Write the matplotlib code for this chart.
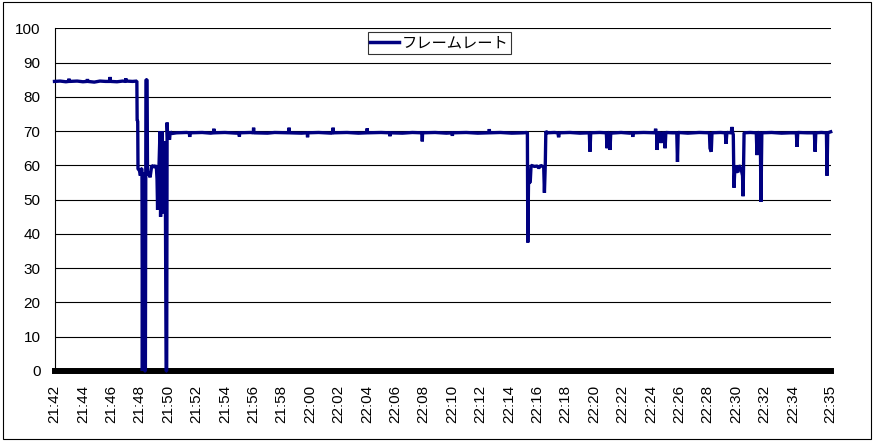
import matplotlib
matplotlib.use('Agg')
import matplotlib.pyplot as plt
from matplotlib.patches import Rectangle

plt.rcParams['font.family'] = ['Liberation Sans', 'Noto Sans CJK JP', 'DejaVu Sans']

# 経過時間 (21:42 からの分) とフレームレート
minutes = [
    # 21:42 - 21:48 (約85fps)
    0.0, 0.4, 0.8, 1.0, 1.02, 1.04, 1.6, 2.0, 2.3, 2.32, 2.34, 2.8, 3.2, 3.6, 3.9, 3.92, 3.94,
    4.4, 4.8, 5.0, 5.02, 5.04, 5.5, 5.79,
    # 21:48 - 21:50 の乱れ
    5.80, 5.82, 5.86, 5.88, 5.98, 6.05, 6.10, 6.16, 6.19, 6.23, 6.27, 6.31, 6.35, 6.40, 6.44, 6.52,
    6.55, 6.65, 6.73, 6.85, 7.00, 7.10, 7.18, 7.22, 7.26, 7.29, 7.36, 7.43, 7.47, 7.52, 7.58, 7.62,
    7.70, 7.80, 7.86, 7.90, 7.93, 7.97, 8.03, 8.10, 8.15, 8.27,
    # 21:50 - 22:15 (約70fps)
    8.6, 9.3, 9.5, 9.52, 9.54, 10.4, 11.0, 11.2, 11.22, 11.24, 12.0, 12.8, 13.0, 13.02, 13.04,
    13.8, 14.0, 14.02, 14.04, 15.0, 15.5, 16.5, 16.52, 16.54, 17.4, 17.8, 17.82, 17.84, 18.6,
    19.5, 19.6, 19.62, 19.64, 20.6, 21.4, 22.0, 22.02, 22.04, 23.0, 23.6, 23.62, 23.64, 24.5,
    25.2, 25.88, 25.9, 25.92, 26.8, 27.6, 28.0, 28.02, 28.04, 29.0, 29.8, 30.6, 30.62, 30.64,
    31.4, 32.2, 33.0, 33.27,
    # 22:15 - 22:16
    33.30, 33.33, 33.38, 33.50, 33.56, 33.80, 34.00, 34.10, 34.25, 34.45, 34.50, 34.56, 34.60, 34.70,
    # 22:16 - 22:35
    35.2, 35.45, 35.5, 35.55, 36.3, 37.0, 37.66, 37.71, 37.76, 38.4, 38.86, 38.91, 38.96, 39.07,
    39.12, 39.17, 39.9, 40.5, 40.7, 40.72, 40.74, 41.5, 42.3, 42.33, 42.36, 42.40, 42.43, 42.48,
    42.66, 42.71, 42.76, 42.95, 43.00, 43.05, 43.5, 43.82, 43.87, 43.92, 44.6, 45.4, 46.0, 46.12,
    46.16, 46.25, 46.30, 46.9, 47.24, 47.29, 47.35, 47.66, 47.70, 47.76, 47.80, 47.85, 47.92,
    48.00, 48.13, 48.20, 48.35, 48.45, 48.49, 48.56, 49.0, 49.42, 49.47, 49.52, 49.70, 49.75,
    49.81, 50.5, 51.2, 51.8, 52.24, 52.29, 52.34, 53.0, 53.51, 53.56, 53.61, 54.0, 54.36, 54.40,
    54.45, 54.66,
]
fps = [
    84.5, 84.6, 84.4, 84.5, 85.3, 84.5, 84.6, 84.4, 84.5, 85.2, 84.5, 84.3, 84.6, 84.5, 84.5, 85.8, 84.5,
    84.4, 84.6, 84.5, 85.4, 84.6, 84.5, 84.6,
    84.6, 73.0, 73.0, 59.0, 58.5, 57.0, 59.0, 59.0, 0.0, 58.0, 0.0, 57.0, 0.0, 0.0, 85.0, 85.0,
    57.0, 58.0, 56.5, 60.0, 59.5, 60.0, 59.0, 56.0, 47.0, 59.0, 60.0, 70.0, 45.0, 62.0, 70.0, 46.0,
    67.0, 60.0, 0.0, 0.0, 72.5, 68.0, 69.5, 67.5, 69.8, 69.3,
    69.5, 69.6, 69.5, 68.3, 69.5, 69.6, 69.4, 69.5, 70.7, 69.5, 69.6, 69.4, 69.5, 68.4, 69.5,
    69.6, 69.5, 71.0, 69.5, 69.4, 69.6, 69.5, 71.0, 69.5, 69.4, 69.5, 68.2, 69.5, 69.6,
    69.4, 69.5, 71.0, 69.5, 69.6, 69.4, 69.5, 70.8, 69.5, 69.6, 69.5, 68.5, 69.5, 69.4,
    69.6, 69.5, 67.0, 69.5, 69.6, 69.4, 69.5, 68.6, 69.5, 69.6, 69.4, 69.5, 70.6, 69.5,
    69.6, 69.4, 69.5, 69.6,
    69.8, 37.5, 55.0, 55.0, 60.0, 59.7, 59.8, 59.2, 60.0, 59.5, 52.0, 60.0, 70.0, 69.5,
    69.6, 69.5, 68.2, 69.5, 69.6, 69.4, 69.5, 64.0, 69.5, 69.6, 69.5, 65.0, 69.6, 69.5,
    64.5, 69.4, 69.6, 69.4, 69.5, 68.3, 69.5, 69.6, 69.5, 70.7, 69.5, 69.5, 64.5, 69.5,
    69.5, 66.5, 69.4, 69.5, 65.0, 69.6, 69.5, 69.5, 61.0, 69.6, 69.4, 69.6, 69.5, 69.5,
    65.0, 64.0, 69.5, 69.6, 69.5, 66.3, 69.6, 69.5, 71.2, 69.5, 69.0, 53.5, 60.0,
    58.5, 58.0, 60.0, 59.0, 57.0, 51.0, 69.5, 69.6, 69.5, 63.0, 69.6, 69.5, 49.4,
    69.5, 69.6, 69.4, 69.5, 69.5, 65.4, 69.6, 69.5, 69.5, 64.0, 69.5, 69.6, 69.5, 57.0,
    69.5, 69.8,
]

tick_pos = list(range(0, 54, 2)) + [54.66]
tick_labels = ['21:%02d' % (42 + m) if 42 + m < 60 else '22:%02d' % (m - 18) for m in range(0, 54, 2)] + ['22:35']

fig = plt.figure(figsize=(8.75, 4.41), dpi=100)
ax = fig.add_axes([54.5 / 875, 1 - 371 / 441, (830.7 - 54.5) / 875, (371 - 28.3) / 441])

ax.plot(minutes, fps, color='#000080', lw=2.4, label='フレームレート', zorder=3, clip_on=False,
        solid_joinstyle='bevel')

ax.set_xlim(0, 54.66)
ax.set_ylim(0, 100)
ax.set_yticks(range(0, 101, 10))
ax.set_xticks(tick_pos)
ax.set_xticklabels(tick_labels, rotation=90)
ax.tick_params(axis='both', length=0, labelsize=11)
ax.tick_params(axis='y', pad=10)
ax.tick_params(axis='x', pad=10)
ax.yaxis.grid(True, color='black', lw=0.8)
ax.set_axisbelow(True)

ax.spines['top'].set_visible(False)
ax.spines['right'].set_visible(False)
ax.spines['left'].set_linewidth(0.8)
ax.spines['bottom'].set_linewidth(4.3)
ax.spines['bottom'].set_zorder(2.5)

leg = ax.legend(loc='upper center', bbox_to_anchor=(439.5 / 875, 1 - 32 / 441),
                bbox_transform=fig.transFigure, frameon=True, fancybox=False,
                borderpad=0.15, handlelength=1.9, handletextpad=0.2, borderaxespad=0,
                prop={'family': ['Noto Sans CJK JP', 'DejaVu Sans'], 'size': 11})
leg.get_frame().set_edgecolor('black')
leg.get_frame().set_linewidth(0.8)
for h in leg.get_lines():
    h.set_linewidth(2.5)

fig.patches.append(Rectangle((2.7 / 875, 2 / 441), (870.7 - 2.7) / 875, (438.7 - 2) / 441,
                             transform=fig.transFigure, fill=False, edgecolor='black', lw=0.8))

fig.savefig('out.png', dpi=100)
